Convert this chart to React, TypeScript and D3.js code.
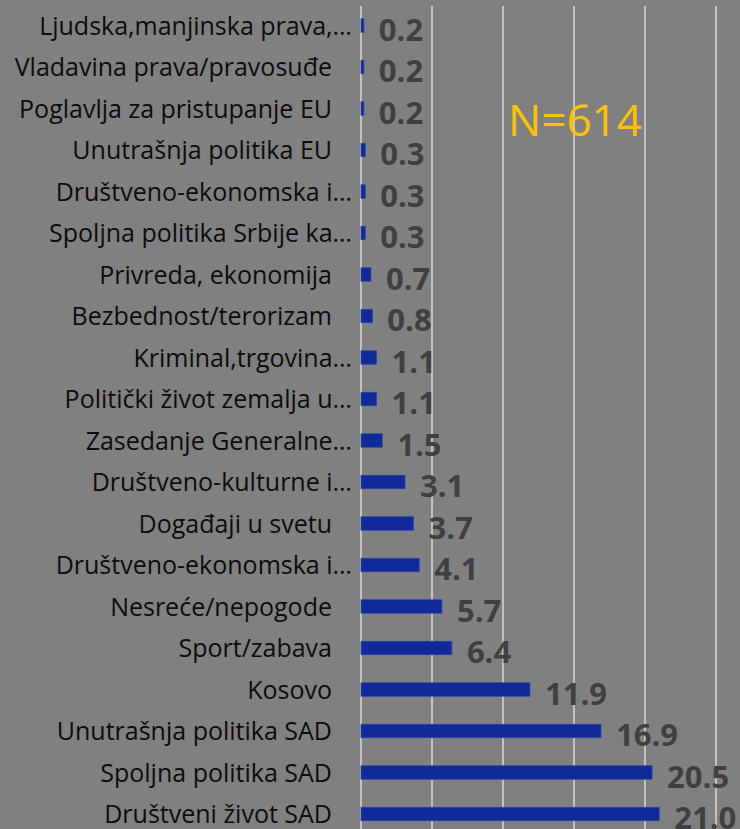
import React from "react";
import * as d3 from "d3";

const categories = [
  "Ljudska,manjinska prava,…",
  "Vladavina prava/pravosuđe",
  "Poglavlja za pristupanje EU",
  "Unutrašnja politika EU",
  "Društveno-ekonomska i…",
  "Spoljna politika Srbije ka…",
  "Privreda, ekonomija",
  "Bezbednost/terorizam",
  "Kriminal,trgovina…",
  "Politički život zemalja u…",
  "Zasedanje Generalne…",
  "Društveno-kulturne i…",
  "Događaji u svetu",
  "Društveno-ekonomska i…",
  "Nesreće/nepogode",
  "Sport/zabava",
  "Kosovo",
  "Unutrašnja politika SAD",
  "Spoljna politika SAD",
  "Društveni život SAD",
];
const values = [0.2, 0.2, 0.2, 0.3, 0.3, 0.3, 0.7, 0.8, 1.1, 1.1, 1.5, 3.1, 3.7, 4.1, 5.7, 6.4, 11.9, 16.9, 20.5, 21.0];
const xTicks = [0, 5, 10, 15, 20, 25];
const annotation = "N=614";

const W = 740;
const H = 829;

export default function App() {
  const x = d3.scaleLinear().domain([0, 25]).range([361, 716]);
  const y = d3
    .scaleBand<number>()
    .domain(d3.range(categories.length))
    .range([4.75, 4.75 + 41.5 * categories.length])
    .paddingInner(0.675)
    .paddingOuter(0.3375);
  const font = "'Open Sans', 'Noto Sans', sans-serif";
  return (
    <svg
      width={W}
      height={H}
      style={{ position: "absolute", left: 0, top: 0, background: "#808080" }}
      fontFamily={font}
    >
      <rect x={0} y={0} width={W} height={H} fill="#808080" />
      {xTicks.map((t) => (
        <line key={t} x1={x(t)} x2={x(t)} y1={6} y2={H} stroke="#d9d9d9" strokeWidth={1.5} />
      ))}
      {values.map((v, i) => {
        const yc = (y(i) as number) + y.bandwidth() / 2;
        const trunc = categories[i].endsWith("…");
        return (
          <g key={i}>
            <rect
              x={x(0)}
              y={y(i)}
              width={x(v) - x(0)}
              height={y.bandwidth()}
              fill="#112a99"
              stroke="#2a46a8"
              strokeWidth={0.75}
            />
            <text
              x={trunc ? 352 : 332}
              y={yc + 9}
              textAnchor="end"
              fontSize={25}
              fill="#0d0d0d"
            >
              {categories[i]}
            </text>
            <text x={x(v) + 15} y={yc + 15} fontSize={31} fontWeight="bold" fill="#404040">
              {v.toFixed(1)}
            </text>
          </g>
        );
      })}
      <text x={575} y={136} textAnchor="middle" fontSize={44} fill="#ffc000">
        {annotation}
      </text>
    </svg>
  );
}
